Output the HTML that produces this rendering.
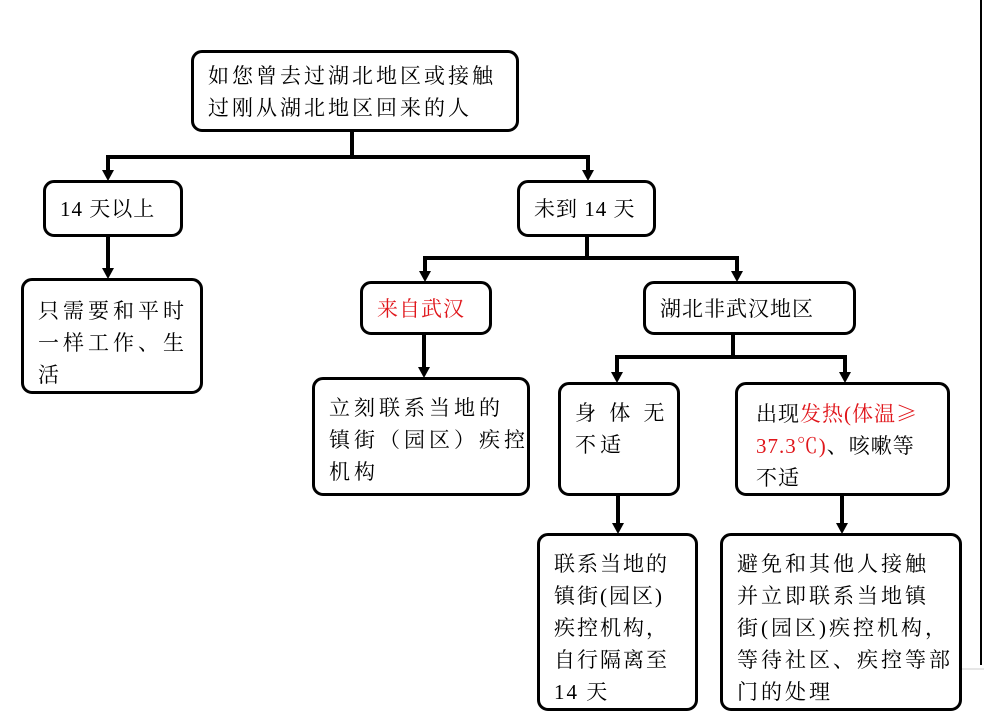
<!DOCTYPE html>
<html><head><meta charset="utf-8"><style>
body{margin:0;width:984px;height:721px;background:#fff;position:relative;overflow:hidden;font-family:"Liberation Serif","Noto Serif CJK SC",serif;}
.b{position:absolute;box-sizing:border-box;border:3.5px solid #000;border-radius:11px;background:#fff;font-size:21px;line-height:32px;color:#000;padding:0 14px;letter-spacing:1px;white-space:nowrap}
.r{color:#e0161b}
svg{position:absolute;left:0;top:0}
</style></head><body>
<svg width="984" height="721">
<g stroke="#000" stroke-width="4" fill="none">
<path d="M352 132V157M108 157H588M108 155V172M588 155V172"/>
<path d="M108 237V270"/>
<path d="M587 237V258M425 258H737M425 256V273M737 256V273"/>
<path d="M424 335V369"/>
<path d="M733 335V357M617 357H845M617 355V374M845 355V374"/>
<path d="M618 496V525M842 496V525"/>
</g>
<g fill="#000">
<path d="M102 170H114L108 181Z"/><path d="M582 170H594L588 181Z"/>
<path d="M102 268H114L108 279Z"/>
<path d="M419 271H431L425 282Z"/><path d="M731 271H743L737 282Z"/>
<path d="M418 367H430L424 378Z"/>
<path d="M611 372H623L617 383Z"/><path d="M839 372H851L845 383Z"/>
<path d="M612 523H624L618 534Z"/><path d="M836 523H848L842 534Z"/>
</g>
<line x1="981" y1="0" x2="981" y2="665" stroke="#000" stroke-width="2"/>
<line x1="962" y1="669" x2="984" y2="669" stroke="#ccc" stroke-width="1"/>
</svg>
<div class="b" style="left:191px;top:50px;width:328px;height:82px;padding-top:7px;letter-spacing:3px">如您曾去过湖北地区或接触<br>过刚从湖北地区回来的人</div>
<div class="b" style="left:43px;top:180px;width:140px;height:57px;padding-top:10px">14 天以上</div>
<div class="b" style="left:517px;top:180px;width:139px;height:57px;padding-top:10px">未到 14 天</div>
<div class="b" style="left:21px;top:278px;width:182px;height:116px;padding-top:14px;letter-spacing:4px">只需要和平时<br>一样工作、生<br>活</div>
<div class="b" style="left:360px;top:281px;width:132px;height:54px;padding-top:9px"><span class="r">来自武汉</span></div>
<div class="b" style="left:643px;top:281px;width:213px;height:54px;padding-top:9px">湖北非武汉地区</div>
<div class="b" style="left:312px;top:377px;width:218px;height:119px;padding-top:12px;letter-spacing:4px">立刻联系当地的<br>镇街（园区）疾控<br>机构</div>
<div class="b" style="left:558px;top:382px;width:122px;height:114px;padding-top:12px;letter-spacing:4px">身 体 无<br>不适</div>
<div class="b" style="left:735px;top:382px;width:215px;height:114px;padding-top:12px;padding-left:18px">出现<span class="r">发热(体温<span style="font-family:'Noto Serif CJK SC',serif">≥</span></span><br><span class="r">37.3℃)</span>、咳嗽等<br>不适</div>
<div class="b" style="left:537px;top:533px;width:161px;height:178px;padding-top:12px;letter-spacing:2px">联系当地的<br>镇街(园区)<br>疾控机构，<br>自行隔离至<br>14 天</div>
<div class="b" style="left:720px;top:533px;width:242px;height:178px;padding-top:12px;letter-spacing:3px">避免和其他人接触<br>并立即联系当地镇<br>街(园区)疾控机构，<br>等待社区、疾控等部<br>门的处理</div>
</body></html>
